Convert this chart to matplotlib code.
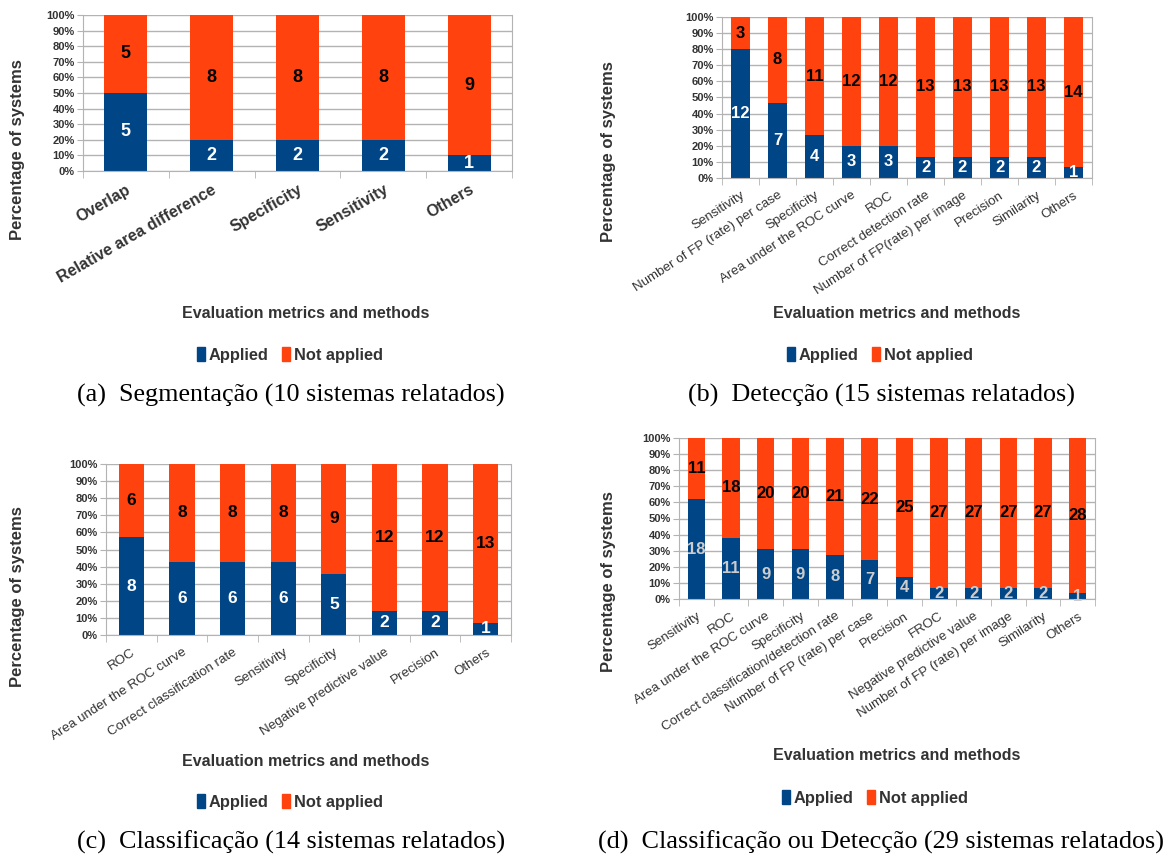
import numpy as np
import matplotlib.pyplot as plt
from matplotlib.patches import Patch

plt.rcParams['font.family'] = ['Liberation Sans', 'DejaVu Sans']

AZUL = '#004586'
LARANJA = '#ff420e'
CINZA = '#b3b3b3'
TEXTO = '#333333'

W, H = 1169, 857

# (a) segmentacao - 10 sistemas
seg_metodos = ['Overlap', 'Relative area difference', 'Specificity', 'Sensitivity', 'Others']
seg_aplicado = [5, 2, 2, 2, 1]
seg_nao_aplicado = [5, 8, 8, 8, 9]

# (b) deteccao - 15 sistemas
det_metodos = ['Sensitivity', 'Number of FP (rate) per case', 'Specificity',
               'Area under the ROC curve', 'ROC', 'Correct detection rate',
               'Number of FP(rate) per image', 'Precision', 'Similarity', 'Others']
det_aplicado = [12, 7, 4, 3, 3, 2, 2, 2, 2, 1]
det_nao_aplicado = [3, 8, 11, 12, 12, 13, 13, 13, 13, 14]

# (c) classificacao - 14 sistemas
cla_metodos = ['ROC', 'Area under the ROC curve', 'Correct classification rate',
               'Sensitivity', 'Specificity', 'Negative predictive value',
               'Precision', 'Others']
cla_aplicado = [8, 6, 6, 6, 5, 2, 2, 1]
cla_nao_aplicado = [6, 8, 8, 8, 9, 12, 12, 13]

# (d) classificacao ou deteccao - 29 sistemas
cd_metodos = ['Sensitivity', 'ROC', 'Area under the ROC curve', 'Specificity',
              'Correct classification/detection rate', 'Number of FP (rate) per case',
              'Precision', 'FROC', 'Negative predictive value',
              'Number of FP (rate) per image', 'Similarity', 'Others']
cd_aplicado = [18, 11, 9, 9, 8, 7, 4, 2, 2, 2, 2, 1]
cd_nao_aplicado = [11, 18, 20, 20, 21, 22, 25, 27, 27, 27, 27, 28]

legendas = ['(a)  Segmentação (10 sistemas relatados)',
            '(b)  Detecção (15 sistemas relatados)',
            '(c)  Classificação (14 sistemas relatados)',
            '(d)  Classificação ou Detecção (29 sistemas relatados)']


def fx(x):
    return x / W


def fy(y):
    return 1 - y / H


def painel(fig, caixa, metodos, aplicado, nao_aplicado, rot, tick_kw, num_fs,
           cor_num, ylab_xy, xlab_xy, leg_xy, cap_xy, legenda):
    x0, y0, x1, y1 = caixa
    ax = fig.add_axes([fx(x0), fy(y1), (x1 - x0) / W, (y1 - y0) / H])
    aplicado = np.array(aplicado)
    nao_aplicado = np.array(nao_aplicado)
    total = aplicado + nao_aplicado
    pa = aplicado / total * 100
    pn = nao_aplicado / total * 100
    x = np.arange(len(metodos))
    ax.bar(x, pa, width=0.5, color=AZUL, zorder=2)
    ax.bar(x, pn, width=0.5, bottom=pa, color=LARANJA, zorder=2)
    # numeros no meio de cada segmento
    for i in range(len(x)):
        ax.text(x[i], pa[i] / 2, str(aplicado[i]), ha='center', va='center',
                color=cor_num, fontsize=num_fs, fontweight='bold', zorder=3)
        ax.text(x[i], pa[i] + pn[i] / 2, str(nao_aplicado[i]), ha='center',
                va='center', color='black', fontsize=num_fs, fontweight='bold', zorder=3)

    ax.set_xlim(-0.5, len(x) - 0.5)
    ax.set_ylim(0, 100)
    ticks_y = np.arange(0, 101, 10)
    ax.set_yticks(ticks_y, [f'{t}%' for t in ticks_y], fontweight='bold')
    ax.tick_params(axis='y', length=4, color=CINZA, labelcolor=TEXTO,
                   labelsize=8, pad=2)
    ax.set_xticks(x, metodos, rotation=rot, ha='right', rotation_mode='anchor', **tick_kw)
    ax.set_xticks(np.arange(len(x) + 1) - 0.5, minor=True)
    ax.tick_params(axis='x', which='major', length=0, labelcolor=TEXTO, pad=8)
    ax.tick_params(axis='x', which='minor', length=5, color=CINZA)
    ax.yaxis.grid(True, color=CINZA, lw=1)
    ax.set_axisbelow(True)
    for s in ax.spines.values():
        s.set_color(CINZA)
    ax.spines['top'].set_visible(False)

    fig.text(fx(ylab_xy[0]), fy(ylab_xy[1]), 'Percentage of systems', rotation=90,
             ha='center', va='center', fontsize=12, fontweight='bold', color=TEXTO)
    fig.text(fx(xlab_xy[0]), fy(xlab_xy[1]), 'Evaluation metrics and methods',
             ha='center', va='center', fontsize=11.5, fontweight='bold', color=TEXTO)
    marcas = [Patch(color=AZUL, label='Applied'), Patch(color=LARANJA, label='Not applied')]
    fig.legend(handles=marcas, loc='center', bbox_to_anchor=(fx(leg_xy[0]), fy(leg_xy[1])),
               ncol=2, frameon=False, handlelength=0.5, handleheight=0.9,
               handletextpad=0.25, columnspacing=0.8,
               prop={'weight': 'bold', 'size': 11.8}, labelcolor=TEXTO)
    fig.text(fx(cap_xy[0]), fy(cap_xy[1]), legenda, ha='center', va='center',
             fontsize=18.8, family='Liberation Serif', color='black')
    return ax


fig = plt.figure(figsize=(W / 100, H / 100), dpi=100)

painel(fig, (83, 15, 512, 171), seg_metodos, seg_aplicado, seg_nao_aplicado, 30,
       {'fontsize': 11.5, 'fontweight': 'bold'}, 13, 'white',
       (18, 150), (306, 314), (290, 355), (291, 395), legendas[0])
painel(fig, (722, 17, 1092, 178), det_metodos, det_aplicado, det_nao_aplicado, 33,
       {'fontsize': 9.6}, 12, 'white',
       (608, 152), (897, 314), (880, 355), (881, 395), legendas[1])
painel(fig, (106, 464, 511, 635), cla_metodos, cla_aplicado, cla_nao_aplicado, 33,
       {'fontsize': 9.6}, 12.5, 'white',
       (18, 597), (306, 761), (290, 802), (291, 842), legendas[2])
painel(fig, (679, 438, 1095, 599), cd_metodos, cd_aplicado, cd_nao_aplicado, 33,
       {'fontsize': 9.6}, 12, '#cccccc',
       (608, 582), (897, 755), (875, 798), (881, 842), legendas[3])

fig.savefig('out.png', dpi=100)
